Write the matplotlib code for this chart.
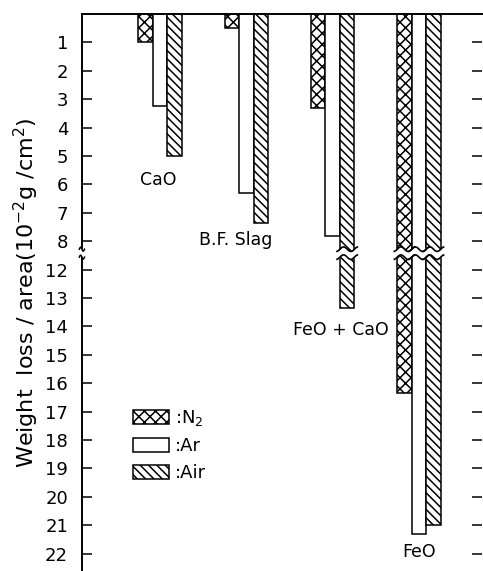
import numpy as np
import matplotlib
matplotlib.use("Agg")
import matplotlib.pyplot as plt

# weight loss (10^-2 g/cm^2)
slags = ["CaO", "B.F. Slag", "FeO+CaO", "FeO"]
loss_n2 = [1.0, 0.5, 3.3, 16.35]
loss_ar = [3.25, 6.3, 7.8, 21.3]
loss_air = [5.0, 7.35, 13.35, 21.0]

low_ticks = [1, 2, 3, 4, 5, 6, 7, 8]
high_ticks = [12, 13, 14, 15, 16, 17, 18, 19, 20, 21, 22]

BREAK_LO = 8.5   # axis jumps from here ...
SKIP = 3.0       # ... to 12 (12 drawn one unit below 8)
BREAK_AT = 8.42


def to_disp(v):
    """map a real value onto the broken axis"""
    return v if v <= BREAK_LO else v - SKIP


plt.rcParams["hatch.linewidth"] = 1.1

fig = plt.figure(figsize=(4.83, 5.71), dpi=100)
ax = fig.add_axes([82 / 483, 0.0, 400 / 483, 557 / 571])

x = np.arange(len(slags))
w = 0.168
series = [(loss_n2, "xxx", ":N$_2$", -w), (loss_ar, "", ":Ar", 0.0),
          (loss_air, "\\\\\\\\", ":Air", w)]
handles = []
for vals, hatch, lab, off in series:
    h = ax.bar(x + off, [to_disp(v) for v in vals], w, bottom=0,
               facecolor="white", edgecolor="black", linewidth=1.1,
               hatch=hatch, label=lab, zorder=2)
    handles.append(h)
    # break marks on bars that cross the gap
    for xi, v in zip(x + off, vals):
        if v > BREAK_LO:
            xs = np.linspace(xi - w * 0.7, xi + w * 0.7, 30)
            wave = 0.08 * np.sin((xs - xi) / w * 2 * np.pi)
            ax.fill_between(xs, BREAK_AT - 0.14 + wave, BREAK_AT + 0.14 + wave,
                            color="white", zorder=3, lw=0)
            ax.plot(xs, BREAK_AT - 0.14 + wave, color="black", lw=1.2, zorder=4)
            ax.plot(xs, BREAK_AT + 0.14 + wave, color="black", lw=1.2, zorder=4)

ax.set_xlim(-0.904, 3.73)
ax.set_ylim(19.61, 0)

tick_pos = [to_disp(t) for t in low_ticks + high_ticks]
ax.set_yticks(tick_pos)
ax.set_yticklabels([str(t) for t in low_ticks + high_ticks], fontsize=13)
ax.tick_params(axis="y", direction="in", length=7, width=1.1, pad=10,
               left=True, right=True)
ax.set_xticks([])

for s in ["bottom", "right"]:
    ax.spines[s].set_visible(False)
for s in ["left", "top"]:
    ax.spines[s].set_linewidth(1.4)

# break on the left axis
ax.fill_betweenx([BREAK_AT - 0.14, BREAK_AT + 0.14], -0.935, -0.875,
                 color="white", zorder=5, clip_on=False, lw=0)
for d in (-0.14, 0.14):
    xs = np.linspace(-0.935, -0.875, 20)
    ax.plot(xs, BREAK_AT + d + 0.07 * np.sin((xs + 0.905) / 0.06 * 2 * np.pi),
            color="black", lw=1.1, zorder=6, clip_on=False)

# slag names
name_pos = [(-0.02, 5.85), (0.88, 7.96), (2.09, 11.13), (3.0, 18.94)]
for name, (px, py) in zip(slags, name_pos):
    txt = "FeO + CaO" if name == "FeO+CaO" else name
    ax.text(px, py, txt, ha="center", va="center", fontsize=12.5)

ax.set_ylabel("Weight  loss / area(10$^{-2}$g /cm$^2$)", fontsize=16,
              labelpad=3)

ax.legend(handles=handles, loc="upper left", frameon=False, fontsize=13,
          bbox_to_anchor=(133 / 483, 1 - 408 / 571),
          bbox_transform=fig.transFigure, borderpad=0, borderaxespad=0,
          handlelength=2.0, handleheight=0.8, handletextpad=0.3,
          labelspacing=0.5)

fig.savefig("out.png", dpi=100)
